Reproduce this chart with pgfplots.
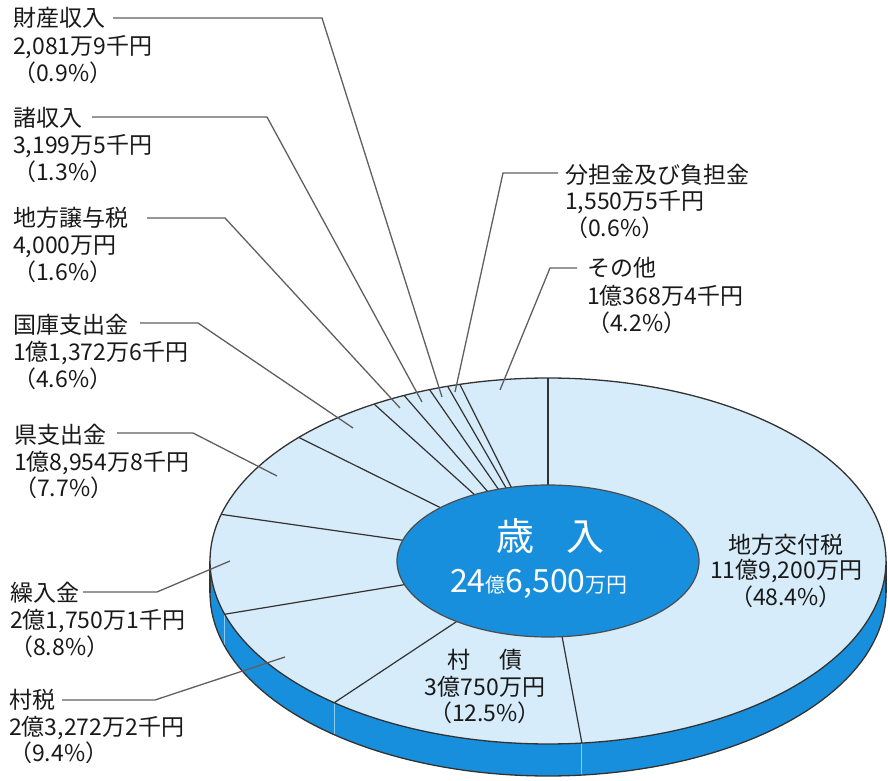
\documentclass[border=0pt]{standalone}
\usepackage{pgfplots}
\pgfplotsset{compat=1.18}
\usepackage{fontspec}
\setmainfont{Noto Sans CJK JP}
\definecolor{face}{RGB}{214,236,250}
\definecolor{pieblue}{RGB}{24,143,220}
\definecolor{edge}{RGB}{50,50,50}
\definecolor{leader}{RGB}{95,95,95}
\definecolor{bandline}{RGB}{140,205,245}
\definecolor{txt}{RGB}{25,25,25}
\newcommand\pcx{548}
\newcommand\pcy{220}
\newcommand\prx{338}
\newcommand\pry{183}
\newcommand\pirx{151}
\newcommand\piry{76}
\newcommand\pdep{32}
% shares in percent, clockwise from 12 o'clock
\newcommand\shares{48.4,12.5,9.4,8.8,7.7,4.6,1.6,1.3,0.9,0.6,4.2}
\newcommand\lblfont{\fontsize{23}{28}\selectfont}
\newcommand\lbl[3]{\node[anchor=base west, inner sep=0pt, font=\lblfont, text=txt] at (axis cs:#1,{781-#2}) {#3};}
\newcommand\clbl[3]{\node[anchor=base, inner sep=0pt, font=\lblfont, text=txt] at (axis cs:#1,{781-#2}) {#3};}
\newcommand\leader[6]{\draw[leader, line width=1.3pt] (axis cs:#1,{781-#2}) -- (axis cs:#3,{781-#4}) -- (axis cs:#5,{781-#6});}
\begin{document}
\begin{tikzpicture}
\begin{axis}[at={(0,0)}, anchor=south west, scale only axis, width=888pt, height=781pt,
  xmin=0, xmax=888, ymin=0, ymax=781, axis lines=none, clip=false]
% side band
\addplot[fill=pieblue, draw=none, domain=0:360, samples=181, forget plot] ({\pcx+\prx*cos(x)},{\pcy-\pdep+\pry*sin(x)});
\addplot[fill=pieblue, draw=none, forget plot] coordinates {(210,220) (886,220) (886,188) (210,188)};
\gdef\acc{90}
\foreach \v in \shares {%
  \pgfmathsetmacro\ang{\acc-3.6*\v}%
  \global\let\acc\ang
  \pgfmathtruncatemacro\front{sin(\ang)<-0.02 ? 1 : 0}%
  \ifnum\front=1
    \pgfmathsetmacro\xo{\pcx+\prx*cos(\ang)}%
    \pgfmathsetmacro\yo{\pcy+\pry*sin(\ang)}%
    \pgfmathsetmacro\yb{\yo-\pdep}%
    \edef\tmp{\noexpand\addplot[draw=bandline, line width=1.1pt, forget plot] coordinates {(\xo,\yo) (\xo,\yb)};}\tmp
  \fi
}
\addplot[draw=edge, line width=1.3pt, domain=180:360, samples=91, forget plot] ({\pcx+\prx*cos(x)},{\pcy-\pdep+\pry*sin(x)});
\addplot[draw=edge, line width=1.3pt, forget plot] coordinates {(210,220) (210,188)};
\addplot[draw=edge, line width=1.3pt, forget plot] coordinates {(886,220) (886,188)};
% top face
\addplot[fill=face, draw=edge, line width=1.3pt, domain=0:360, samples=241, forget plot] ({\pcx+\prx*cos(x)},{\pcy+\pry*sin(x)});
% slice boundaries
\gdef\acc{90}
\foreach \v in \shares {%
  \pgfmathsetmacro\ang{\acc-3.6*\v}%
  \global\let\acc\ang
  \pgfmathsetmacro\xo{\pcx+\prx*cos(\ang)}%
  \pgfmathsetmacro\yo{\pcy+\pry*sin(\ang)}%
  \edef\tmp{\noexpand\addplot[draw=edge, line width=1.2pt, forget plot] coordinates {(\pcx,\pcy) (\xo,\yo)};}\tmp
}
% centre ellipse
\addplot[fill=pieblue, draw=black!70, line width=1.2pt, domain=0:360, samples=181, forget plot] ({\pcx+\pirx*cos(x)},{\pcy+\piry*sin(x)});
\node[anchor=base, inner sep=0pt, font=\fontsize{38}{40}\selectfont, text=white] at (axis cs:515,{781-551}) {歳};
\node[anchor=base, inner sep=0pt, font=\fontsize{38}{40}\selectfont, text=white] at (axis cs:585,{781-551}) {入};
\node[anchor=base west, inner sep=0pt, text=white] at (axis cs:450,{781-593}) {\fontsize{32}{32}\selectfont 24{\fontsize{20}{20}\selectfont 億}6,500{\fontsize{21}{21}\selectfont 万円}};
% leader lines
\leader{113}{18}{322}{18}{442}{397}
\leader{92}{117}{267}{117}{422}{402}
\leader{147}{218}{225}{218}{400}{408}
\leader{140}{323}{198}{323}{353}{428}
\leader{117}{433}{193}{433}{277}{476}
\leader{83}{592}{157}{592}{230}{561}
\leader{62}{700}{155}{700}{285}{657}
\leader{558}{173}{503}{173}{455}{392}
\leader{577}{268}{550}{268}{500}{390}
% labels
\lbl{13}{27}{財産収入}
\lbl{13}{55}{2,081万9千円}
\lbl{13}{82}{（0.9\%）}
\lbl{13}{127}{諸収入}
\lbl{13}{154}{3,199万5千円}
\lbl{13}{181}{（1.3\%）}
\lbl{13}{227}{地方譲与税}
\lbl{13}{254}{4,000万円}
\lbl{13}{281}{（1.6\%）}
\lbl{13}{334}{国庫支出金}
\lbl{13}{361}{1億1,372万6千円}
\lbl{13}{388}{（4.6\%）}
\lbl{14}{444}{県支出金}
\lbl{14}{471}{1億8,954万8千円}
\lbl{14}{497}{（7.7\%）}
\lbl{10}{602}{繰入金}
\lbl{10}{629}{2億1,750万1千円}
\lbl{10}{656}{（8.8\%）}
\lbl{9}{709}{村税}
\lbl{9}{736}{2億3,272万2千円}
\lbl{9}{762}{（9.4\%）}
\lbl{565}{184}{分担金及び負担金}
\lbl{565}{210}{1,550万5千円}
\lbl{565}{237}{（0.6\%）}
\lbl{587}{277}{その他}
\lbl{587}{305}{1億368万4千円}
\lbl{587}{332}{（4.2\%）}
\clbl{786}{554}{地方交付税}
\clbl{786}{579}{11億9,200万円}
\clbl{786}{606}{（48.4\%）}
\clbl{485}{669}{村\hspace{30pt}債}
\clbl{485}{696}{3億750万円}
\clbl{485}{722}{（12.5\%）}
\end{axis}
\pgfresetboundingbox
\path[use as bounding box] (current axis.south west) rectangle (current axis.north east);
\end{tikzpicture}
\end{document}
